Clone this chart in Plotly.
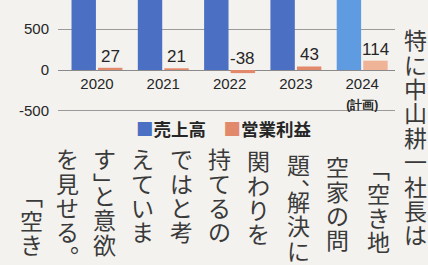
import plotly.graph_objects as go

# ---- data ----
years = [2020, 2021, 2022, 2023, 2024]
year_labels = ["2020", "2021", "2022", "2023",
               "2024<br><span style='font-size:12px'><b>(計画)</b></span>"]
sales = [1080, 1120, 1160, 1210, 1300]          # 売上高 (bars cut off at top; estimated)
profit = [27, 21, -38, 43, 114]                 # 営業利益
profit_labels = ["27", "21", "-38", "43", "114"]
series_names = ["売上高", "営業利益"]
y_ticks = [-500, 0, 500]

# ---- styles ----
W, H = 428, 265
BG = "#f3f2ef"
blue = ["#4a6fc3", "#4a6fc3", "#4a6fc3", "#4a6fc3", "#5f9be0"]
orange = ["#e3896b", "#e3896b", "#e3896b", "#e3896b", "#efb497"]
DIGIT = "Liberation Sans"
CJK = "Noto Sans CJK JP"
INK = "#262626"
TXT = "#3a3a3a"

fig = go.Figure()
fig.add_bar(x=years, y=sales, name=series_names[0], marker_color=blue,
            marker_line_width=0, hoverinfo="skip")
fig.add_bar(x=years, y=profit, name=series_names[1], marker_color=orange,
            marker_line_width=0, hoverinfo="skip")

# value labels over profit bars
for yr, v, lab in zip(years, profit, profit_labels):
    fig.add_annotation(x=yr + 0.2, y=max(v, 0), text=lab, showarrow=False,
                       yanchor="bottom", yshift=0,
                       font=dict(family=DIGIT, size=17, color=INK))

# legend (as text)
fig.add_annotation(
    xref="paper", yref="paper", x=134 / W, y=1 - 128 / H,
    xanchor="left", yanchor="middle", showarrow=False,
    text=(f"<span style='color:{blue[0]}'>■</span><b>{series_names[0]}</b>"
          f"　<span style='color:{orange[0]}'>■</span><b>{series_names[1]}</b>"),
    font=dict(family=CJK, size=17.5, color=INK))

# ---- vertical body text ----
VMAP = {"「": "﹁", "」": "﹂", "、": "︑", "。": "︒"}
HALF = {"」", "、"}
columns = [
    (415, 27, "特に中山耕一社長は"),
    (378, 156, "「空き地・"),
    (337, 154, "空家の問"),
    (298, 152, "題、解決に"),
    (258, 148, "関わりを"),
    (219, 146, "持てるの"),
    (181, 146, "ではと考"),
    (142, 146, "えていま"),
    (104, 146, "す」と意欲"),
    (67, 146, "を見せる。"),
    (32, 183, "「空き"),
]
pitch = 24.4
for cx, top, s in columns:
    cur = top
    for ch in s:
        fig.add_annotation(xref="paper", yref="paper",
                           x=cx / W, y=1 - (cur + pitch / 2) / H,
                           xanchor="center", yanchor="middle", showarrow=False,
                           text=VMAP.get(ch, ch),
                           font=dict(family=CJK, size=23, color=TXT))
        cur += pitch * (0.5 if ch in HALF else 1.0)

x0, x1 = 58 / W, 395 / W
fig.update_layout(
    width=W, height=H, margin=dict(l=0, r=0, t=0, b=0, autoexpand=False),
    paper_bgcolor=BG, plot_bgcolor=BG,
    barmode="group", bargap=0.2, bargroupgap=0.08,
    showlegend=False, hovermode=False,
    xaxis=dict(domain=[x0, x1], range=[2019.412, 2024.495],
               tickvals=years, ticktext=year_labels,
               anchor="free", position=1 - 70 / H, automargin=False,
               showgrid=False, zeroline=False, showline=False, ticks="",
               ticklabelstandoff=3,
               tickfont=dict(family=DIGIT, size=15, color=INK)),
    yaxis=dict(domain=[1 - 115 / H, 1], range=[-549, 854], automargin=False,
               tickvals=y_ticks, ticktext=[str(t) for t in y_ticks],
               showgrid=True, gridcolor="#9a9a9a", gridwidth=1,
               zeroline=True, zerolinecolor="#8a8a8a", zerolinewidth=1,
               ticks="", ticklabelstandoff=8,
               tickfont=dict(family=DIGIT, size=15, color=INK)),
)

fig.write_html("out.html",
               config={"displayModeBar": False, "staticPlot": True},
               post_script="document.body.style.margin='0px';"
                           "document.body.style.background='%s';" % BG)
